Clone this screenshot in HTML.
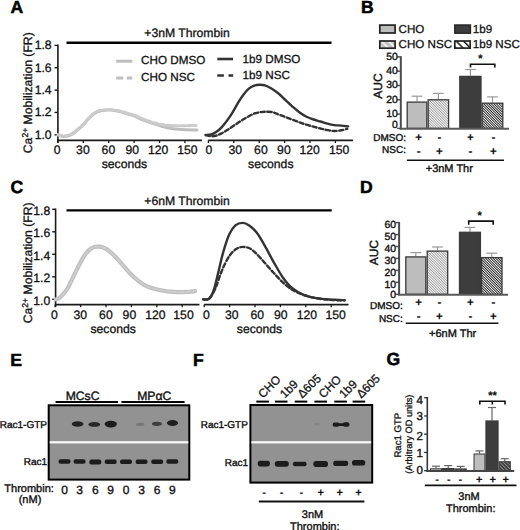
<!DOCTYPE html><html><head><meta charset="utf-8"><style>html,body{margin:0;padding:0;background:#fff;}svg{display:block;font-family:"Liberation Sans",sans-serif;text-rendering:geometricPrecision;}text{stroke:#111;stroke-width:0.3px;} text[font-weight=bold]{stroke-width:0.15px;} text.m{stroke-width:0.38px;}</style></head><body>
<svg width="520" height="530" viewBox="0 0 520 530">
<defs><pattern id="hl" patternUnits="userSpaceOnUse" width="1.8" height="1.8" patternTransform="rotate(-45)"><rect width="1.8" height="1.8" fill="#ffffff"/><rect width="0.85" height="1.8" fill="#9a9a9a"/></pattern><pattern id="hd" patternUnits="userSpaceOnUse" width="1.8" height="1.8" patternTransform="rotate(-45)"><rect width="1.8" height="1.8" fill="#ffffff"/><rect width="0.9" height="1.8" fill="#1a1a1a"/></pattern><pattern id="hl2" patternUnits="userSpaceOnUse" width="5.0" height="5.0" patternTransform="translate(380,41) rotate(-45)"><rect width="5" height="5" fill="#c4c4c4"/><rect width="1.7" height="5" fill="#f4f4f4"/></pattern><pattern id="hd2" patternUnits="userSpaceOnUse" width="5.2" height="5.2" patternTransform="translate(455,41) rotate(-45)"><rect width="5.2" height="5.2" fill="#ffffff"/><rect width="1.5" height="5.2" fill="#1a1a1a"/></pattern><pattern id="hg" patternUnits="userSpaceOnUse" width="2.6" height="2.6" patternTransform="rotate(-45)"><rect width="2.6" height="2.6" fill="#3a3a3a"/><rect width="1.0" height="2.6" fill="#8c8c8c"/></pattern><filter id="bl" x="-50%" y="-50%" width="200%" height="200%"><feGaussianBlur stdDeviation="0.65"/></filter><filter id="bl2" x="-50%" y="-50%" width="200%" height="200%"><feGaussianBlur stdDeviation="0.45"/></filter></defs>
<rect width="520" height="530" fill="#fff"/>
<text x="10.40" y="12.70" font-size="17.60" font-weight="bold" text-anchor="start" fill="#000" style="stroke:#000;stroke-width:0.5px">A</text>
<text x="360.90" y="12.80" font-size="17.60" font-weight="bold" text-anchor="start" fill="#000" style="stroke:#000;stroke-width:0.5px">B</text>
<text x="10.40" y="193.40" font-size="17.60" font-weight="bold" text-anchor="start" fill="#000" style="stroke:#000;stroke-width:0.5px">C</text>
<text x="359.90" y="193.40" font-size="17.60" font-weight="bold" text-anchor="start" fill="#000" style="stroke:#000;stroke-width:0.5px">D</text>
<text x="10.30" y="365.70" font-size="17.60" font-weight="bold" text-anchor="start" fill="#000" style="stroke:#000;stroke-width:0.5px">E</text>
<text x="192.90" y="366.10" font-size="17.60" font-weight="bold" text-anchor="start" fill="#000" style="stroke:#000;stroke-width:0.5px">F</text>
<text x="386.60" y="365.40" font-size="17.60" font-weight="bold" text-anchor="start" fill="#000" style="stroke:#000;stroke-width:0.5px">G</text>
<text x="144.30" y="36.90" font-size="12.20" font-weight="normal" text-anchor="start" fill="#111" >+3nM Thrombin</text>
<line x1="66.50" y1="42.80" x2="331.50" y2="42.80" stroke="#000" stroke-width="2.40" />
<line x1="57.90" y1="44.60" x2="57.90" y2="142.80" stroke="#1a1a1a" stroke-width="1.60" />
<line x1="54.50" y1="134.80" x2="57.90" y2="134.80" stroke="#1a1a1a" stroke-width="1.40" />
<text x="51.60" y="138.70" font-size="12.20" font-weight="normal" text-anchor="end" fill="#111" >1.0</text>
<line x1="54.50" y1="112.45" x2="57.90" y2="112.45" stroke="#1a1a1a" stroke-width="1.40" />
<text x="51.60" y="116.35" font-size="12.20" font-weight="normal" text-anchor="end" fill="#111" >1.2</text>
<line x1="54.50" y1="90.10" x2="57.90" y2="90.10" stroke="#1a1a1a" stroke-width="1.40" />
<text x="51.60" y="94.00" font-size="12.20" font-weight="normal" text-anchor="end" fill="#111" >1.4</text>
<line x1="54.50" y1="67.75" x2="57.90" y2="67.75" stroke="#1a1a1a" stroke-width="1.40" />
<text x="51.60" y="71.65" font-size="12.20" font-weight="normal" text-anchor="end" fill="#111" >1.6</text>
<line x1="54.50" y1="45.40" x2="57.90" y2="45.40" stroke="#1a1a1a" stroke-width="1.40" />
<text x="51.60" y="49.30" font-size="12.20" font-weight="normal" text-anchor="end" fill="#111" >1.8</text>
<text transform="translate(32.0,92.75) rotate(-90)" font-size="12.2" text-anchor="middle" fill="#111">Ca<tspan font-size="8.6" dy="-4.3">2+</tspan><tspan dy="4.3"> Mobilization (FR)</tspan></text>
<line x1="57.20" y1="140.40" x2="201.90" y2="140.40" stroke="#1a1a1a" stroke-width="1.60" />
<line x1="57.90" y1="140.40" x2="57.90" y2="143.00" stroke="#1a1a1a" stroke-width="1.30" />
<text x="57.20" y="153.90" font-size="12.20" font-weight="normal" text-anchor="middle" fill="#111" >0</text>
<line x1="83.30" y1="140.40" x2="83.30" y2="143.00" stroke="#1a1a1a" stroke-width="1.30" />
<text x="82.90" y="153.90" font-size="12.20" font-weight="normal" text-anchor="middle" fill="#111" >30</text>
<line x1="108.70" y1="140.40" x2="108.70" y2="143.00" stroke="#1a1a1a" stroke-width="1.30" />
<text x="108.40" y="153.90" font-size="12.20" font-weight="normal" text-anchor="middle" fill="#111" >60</text>
<line x1="134.10" y1="140.40" x2="134.10" y2="143.00" stroke="#1a1a1a" stroke-width="1.30" />
<text x="132.20" y="153.90" font-size="12.20" font-weight="normal" text-anchor="middle" fill="#111" >90</text>
<line x1="159.50" y1="140.40" x2="159.50" y2="143.00" stroke="#1a1a1a" stroke-width="1.30" />
<text x="158.20" y="153.90" font-size="12.20" font-weight="normal" text-anchor="middle" fill="#111" >120</text>
<line x1="184.90" y1="140.40" x2="184.90" y2="143.00" stroke="#1a1a1a" stroke-width="1.30" />
<text x="187.40" y="153.90" font-size="12.20" font-weight="normal" text-anchor="middle" fill="#111" >150</text>
<text x="124.40" y="168.00" font-size="12.20" font-weight="normal" text-anchor="middle" fill="#111" >seconds</text>
<line x1="208.30" y1="140.40" x2="353.00" y2="140.40" stroke="#1a1a1a" stroke-width="1.60" />
<line x1="208.40" y1="140.40" x2="208.40" y2="143.00" stroke="#1a1a1a" stroke-width="1.30" />
<text x="208.90" y="153.90" font-size="12.20" font-weight="normal" text-anchor="middle" fill="#111" >0</text>
<line x1="233.80" y1="140.40" x2="233.80" y2="143.00" stroke="#1a1a1a" stroke-width="1.30" />
<text x="235.30" y="153.90" font-size="12.20" font-weight="normal" text-anchor="middle" fill="#111" >30</text>
<line x1="259.20" y1="140.40" x2="259.20" y2="143.00" stroke="#1a1a1a" stroke-width="1.30" />
<text x="260.90" y="153.90" font-size="12.20" font-weight="normal" text-anchor="middle" fill="#111" >60</text>
<line x1="284.60" y1="140.40" x2="284.60" y2="143.00" stroke="#1a1a1a" stroke-width="1.30" />
<text x="283.90" y="153.90" font-size="12.20" font-weight="normal" text-anchor="middle" fill="#111" >90</text>
<line x1="310.00" y1="140.40" x2="310.00" y2="143.00" stroke="#1a1a1a" stroke-width="1.30" />
<text x="309.60" y="153.90" font-size="12.20" font-weight="normal" text-anchor="middle" fill="#111" >120</text>
<line x1="335.40" y1="140.40" x2="335.40" y2="143.00" stroke="#1a1a1a" stroke-width="1.30" />
<text x="339.20" y="153.90" font-size="12.20" font-weight="normal" text-anchor="middle" fill="#111" >150</text>
<text x="270.80" y="168.00" font-size="12.20" font-weight="normal" text-anchor="middle" fill="#111" >seconds</text>
<path d="M58.10 135.10 C59.00 135.35 61.45 136.60 63.50 136.60 C65.55 136.60 68.23 136.07 70.40 135.10 C72.57 134.13 74.45 132.42 76.50 130.80 C78.55 129.18 80.65 127.45 82.70 125.40 C84.75 123.35 86.75 120.55 88.80 118.50 C90.85 116.45 92.93 114.38 95.00 113.10 C97.07 111.82 98.63 111.32 101.20 110.80 C103.77 110.28 107.33 109.88 110.40 110.00 C113.47 110.12 116.53 110.80 119.60 111.50 C122.67 112.20 126.37 113.47 128.80 114.20 C131.23 114.93 131.75 114.90 134.20 115.90 C136.65 116.90 140.42 118.95 143.50 120.20 C146.58 121.45 149.63 122.37 152.70 123.40 C155.77 124.43 158.82 125.53 161.90 126.40 C164.98 127.27 168.12 128.10 171.20 128.60 C174.28 129.10 176.10 129.17 180.40 129.40 C184.70 129.63 194.23 129.90 197.00 130.00" fill="none" stroke="#bebebe" stroke-width="3.00" stroke-linecap="round" stroke-linejoin="round" />
<path d="M58.10 134.60 C59.00 134.83 61.45 136.00 63.50 136.00 C65.55 136.00 68.23 135.55 70.40 134.60 C72.57 133.65 74.45 131.92 76.50 130.30 C78.55 128.68 80.65 126.95 82.70 124.90 C84.75 122.85 86.75 120.05 88.80 118.00 C90.85 115.95 92.93 113.88 95.00 112.60 C97.07 111.32 98.63 110.80 101.20 110.30 C103.77 109.80 107.33 109.48 110.40 109.60 C113.47 109.72 116.53 110.33 119.60 111.00 C122.67 111.67 126.37 112.90 128.80 113.60 C131.23 114.30 131.75 114.27 134.20 115.20 C136.65 116.13 140.42 118.00 143.50 119.20 C146.58 120.40 149.63 121.50 152.70 122.40 C155.77 123.30 158.82 124.10 161.90 124.60 C164.98 125.10 168.12 125.20 171.20 125.40 C174.28 125.60 176.27 125.80 180.40 125.80 C184.53 125.80 193.40 125.47 196.00 125.40" fill="none" stroke="#cbcbcb" stroke-width="3.00" stroke-linecap="round" stroke-linejoin="round" stroke-dasharray="4.5 2.2"/>
<path d="M205.70 134.90 C206.60 134.83 209.30 135.02 211.10 134.50 C212.90 133.98 214.72 133.03 216.50 131.80 C218.28 130.57 220.02 129.00 221.80 127.10 C223.58 125.20 225.40 122.87 227.20 120.40 C229.00 117.93 230.80 115.22 232.60 112.30 C234.40 109.38 236.20 105.82 238.00 102.90 C239.80 99.98 241.60 97.17 243.40 94.80 C245.20 92.43 247.02 90.22 248.80 88.70 C250.58 87.18 252.32 86.35 254.10 85.70 C255.88 85.05 257.70 84.85 259.50 84.80 C261.30 84.75 262.98 84.82 264.90 85.40 C266.82 85.98 268.68 86.90 271.00 88.30 C273.32 89.70 276.33 91.78 278.80 93.80 C281.27 95.82 283.48 98.23 285.80 100.40 C288.12 102.57 290.40 104.78 292.70 106.80 C295.00 108.82 297.30 110.85 299.60 112.50 C301.90 114.15 304.18 115.53 306.50 116.70 C308.82 117.87 311.18 118.70 313.50 119.50 C315.82 120.30 318.10 120.82 320.40 121.50 C322.70 122.18 325.00 123.00 327.30 123.60 C329.60 124.20 331.88 124.77 334.20 125.10 C336.52 125.43 338.88 125.38 341.20 125.60 C343.52 125.82 346.95 126.27 348.10 126.40" fill="none" stroke="#333333" stroke-width="2.40" stroke-linecap="round" stroke-linejoin="round" />
<path d="M205.70 135.20 C206.60 135.37 209.30 136.15 211.10 136.20 C212.90 136.25 214.72 136.00 216.50 135.50 C218.28 135.00 220.02 134.10 221.80 133.20 C223.58 132.30 225.40 131.23 227.20 130.10 C229.00 128.97 230.80 127.62 232.60 126.40 C234.40 125.18 236.20 123.98 238.00 122.80 C239.80 121.62 241.60 120.38 243.40 119.30 C245.20 118.22 247.02 117.25 248.80 116.30 C250.58 115.35 252.32 114.27 254.10 113.60 C255.88 112.93 257.70 112.60 259.50 112.30 C261.30 112.00 262.83 111.83 264.90 111.80 C266.97 111.77 269.58 111.63 271.90 112.10 C274.22 112.57 276.48 113.75 278.80 114.60 C281.12 115.45 283.48 116.33 285.80 117.20 C288.12 118.07 290.40 118.93 292.70 119.80 C295.00 120.67 297.30 121.58 299.60 122.40 C301.90 123.22 304.18 123.98 306.50 124.70 C308.82 125.42 311.18 126.07 313.50 126.70 C315.82 127.33 318.10 127.93 320.40 128.50 C322.70 129.07 325.00 129.68 327.30 130.10 C329.60 130.52 331.88 130.97 334.20 131.00 C336.52 131.03 339.03 130.67 341.20 130.30 C343.37 129.93 346.20 129.05 347.20 128.80" fill="none" stroke="#333333" stroke-width="2.40" stroke-linecap="round" stroke-linejoin="round" stroke-dasharray="4.2 2.6"/>
<line x1="116.20" y1="61.20" x2="132.30" y2="61.20" stroke="#bebebe" stroke-width="3.00" />
<line x1="116.2" y1="78.0" x2="132.3" y2="78.0" stroke="#bebebe" stroke-width="3" stroke-dasharray="7 3.6"/>
<text x="141.00" y="64.00" font-size="11.70" font-weight="normal" text-anchor="start" fill="#111" >CHO DMSO</text>
<text x="141.00" y="80.70" font-size="11.70" font-weight="normal" text-anchor="start" fill="#111" >CHO NSC</text>
<line x1="217.30" y1="59.00" x2="233.10" y2="59.00" stroke="#333333" stroke-width="2.60" />
<line x1="217.3" y1="75.5" x2="233.2" y2="75.5" stroke="#333333" stroke-width="2.6" stroke-dasharray="6.6 4.6"/>
<text x="242.60" y="63.00" font-size="11.70" font-weight="normal" text-anchor="start" fill="#111" >1b9 DMSO</text>
<text x="242.60" y="79.30" font-size="11.70" font-weight="normal" text-anchor="start" fill="#111" >1b9 NSC</text>
<text x="144.30" y="204.60" font-size="12.20" font-weight="normal" text-anchor="start" fill="#111" >+6nM Thrombin</text>
<line x1="66.50" y1="210.40" x2="331.70" y2="210.40" stroke="#000" stroke-width="2.40" />
<line x1="55.60" y1="208.50" x2="55.60" y2="307.00" stroke="#1a1a1a" stroke-width="1.60" />
<line x1="52.20" y1="299.30" x2="55.60" y2="299.30" stroke="#1a1a1a" stroke-width="1.40" />
<text x="50.20" y="304.90" font-size="12.20" font-weight="normal" text-anchor="end" fill="#111" >1.0</text>
<line x1="52.20" y1="276.80" x2="55.60" y2="276.80" stroke="#1a1a1a" stroke-width="1.40" />
<text x="50.20" y="282.40" font-size="12.20" font-weight="normal" text-anchor="end" fill="#111" >1.2</text>
<line x1="52.20" y1="254.30" x2="55.60" y2="254.30" stroke="#1a1a1a" stroke-width="1.40" />
<text x="50.20" y="259.90" font-size="12.20" font-weight="normal" text-anchor="end" fill="#111" >1.4</text>
<line x1="52.20" y1="231.80" x2="55.60" y2="231.80" stroke="#1a1a1a" stroke-width="1.40" />
<text x="50.20" y="237.40" font-size="12.20" font-weight="normal" text-anchor="end" fill="#111" >1.6</text>
<line x1="52.20" y1="209.30" x2="55.60" y2="209.30" stroke="#1a1a1a" stroke-width="1.40" />
<text x="50.20" y="214.90" font-size="12.20" font-weight="normal" text-anchor="end" fill="#111" >1.8</text>
<text transform="translate(32.0,262.85) rotate(-90)" font-size="12.2" text-anchor="middle" fill="#111">Ca<tspan font-size="8.6" dy="-4.3">2+</tspan><tspan dy="4.3"> Mobilization (FR)</tspan></text>
<line x1="54.90" y1="304.60" x2="199.40" y2="304.60" stroke="#1a1a1a" stroke-width="1.60" />
<line x1="55.20" y1="304.60" x2="55.20" y2="307.20" stroke="#1a1a1a" stroke-width="1.30" />
<text x="54.40" y="318.90" font-size="12.20" font-weight="normal" text-anchor="middle" fill="#111" >0</text>
<line x1="80.60" y1="304.60" x2="80.60" y2="307.20" stroke="#1a1a1a" stroke-width="1.30" />
<text x="80.30" y="318.90" font-size="12.20" font-weight="normal" text-anchor="middle" fill="#111" >30</text>
<line x1="106.00" y1="304.60" x2="106.00" y2="307.20" stroke="#1a1a1a" stroke-width="1.30" />
<text x="105.90" y="318.90" font-size="12.20" font-weight="normal" text-anchor="middle" fill="#111" >60</text>
<line x1="131.40" y1="304.60" x2="131.40" y2="307.20" stroke="#1a1a1a" stroke-width="1.30" />
<text x="129.40" y="318.90" font-size="12.20" font-weight="normal" text-anchor="middle" fill="#111" >90</text>
<line x1="156.80" y1="304.60" x2="156.80" y2="307.20" stroke="#1a1a1a" stroke-width="1.30" />
<text x="155.30" y="318.90" font-size="12.20" font-weight="normal" text-anchor="middle" fill="#111" >120</text>
<line x1="182.20" y1="304.60" x2="182.20" y2="307.20" stroke="#1a1a1a" stroke-width="1.30" />
<text x="183.50" y="318.90" font-size="12.20" font-weight="normal" text-anchor="middle" fill="#111" >150</text>
<text x="113.20" y="333.20" font-size="12.20" font-weight="normal" text-anchor="middle" fill="#111" >seconds</text>
<line x1="204.20" y1="304.60" x2="348.50" y2="304.60" stroke="#1a1a1a" stroke-width="1.60" />
<line x1="204.20" y1="304.60" x2="204.20" y2="307.20" stroke="#1a1a1a" stroke-width="1.30" />
<text x="206.50" y="318.90" font-size="12.20" font-weight="normal" text-anchor="middle" fill="#111" >0</text>
<line x1="229.60" y1="304.60" x2="229.60" y2="307.20" stroke="#1a1a1a" stroke-width="1.30" />
<text x="231.80" y="318.90" font-size="12.20" font-weight="normal" text-anchor="middle" fill="#111" >30</text>
<line x1="255.00" y1="304.60" x2="255.00" y2="307.20" stroke="#1a1a1a" stroke-width="1.30" />
<text x="257.30" y="318.90" font-size="12.20" font-weight="normal" text-anchor="middle" fill="#111" >60</text>
<line x1="280.40" y1="304.60" x2="280.40" y2="307.20" stroke="#1a1a1a" stroke-width="1.30" />
<text x="280.80" y="318.90" font-size="12.20" font-weight="normal" text-anchor="middle" fill="#111" >90</text>
<line x1="305.80" y1="304.60" x2="305.80" y2="307.20" stroke="#1a1a1a" stroke-width="1.30" />
<text x="306.80" y="318.90" font-size="12.20" font-weight="normal" text-anchor="middle" fill="#111" >120</text>
<line x1="331.20" y1="304.60" x2="331.20" y2="307.20" stroke="#1a1a1a" stroke-width="1.30" />
<text x="335.60" y="318.90" font-size="12.20" font-weight="normal" text-anchor="middle" fill="#111" >150</text>
<text x="259.50" y="333.20" font-size="12.20" font-weight="normal" text-anchor="middle" fill="#111" >seconds</text>
<path d="M55.80 299.40 C56.25 299.23 57.45 299.07 58.50 298.40 C59.55 297.73 60.60 297.05 62.10 295.40 C63.60 293.75 65.72 291.45 67.50 288.50 C69.28 285.55 71.02 281.30 72.80 277.70 C74.58 274.10 76.40 270.38 78.20 266.90 C80.00 263.42 81.80 259.60 83.60 256.80 C85.40 254.00 87.20 251.73 89.00 250.10 C90.80 248.47 92.60 247.57 94.40 247.00 C96.20 246.43 98.02 246.48 99.80 246.70 C101.58 246.92 103.32 247.40 105.10 248.30 C106.88 249.20 108.77 250.65 110.50 252.10 C112.23 253.55 113.67 255.08 115.50 257.00 C117.33 258.92 119.40 261.23 121.50 263.60 C123.60 265.97 125.92 268.85 128.10 271.20 C130.28 273.55 132.42 275.75 134.60 277.70 C136.78 279.65 139.02 281.40 141.20 282.90 C143.38 284.40 145.53 285.72 147.70 286.70 C149.87 287.68 152.02 288.20 154.20 288.80 C156.38 289.40 158.62 289.88 160.80 290.30 C162.98 290.72 165.13 291.03 167.30 291.30 C169.47 291.57 171.62 291.75 173.80 291.90 C175.98 292.05 178.22 292.20 180.40 292.20 C182.58 292.20 184.45 292.08 186.90 291.90 C189.35 291.72 193.73 291.23 195.10 291.10" fill="none" stroke="#bebebe" stroke-width="4.20" stroke-linecap="round" stroke-linejoin="round" />
<path d="M55.80 299.40 C56.25 299.23 57.45 299.07 58.50 298.40 C59.55 297.73 60.60 297.05 62.10 295.40 C63.60 293.75 65.72 291.45 67.50 288.50 C69.28 285.55 71.02 281.30 72.80 277.70 C74.58 274.10 76.40 270.38 78.20 266.90 C80.00 263.42 81.80 259.60 83.60 256.80 C85.40 254.00 87.20 251.73 89.00 250.10 C90.80 248.47 92.60 247.57 94.40 247.00 C96.20 246.43 98.02 246.48 99.80 246.70 C101.58 246.92 103.32 247.40 105.10 248.30 C106.88 249.20 108.77 250.65 110.50 252.10 C112.23 253.55 113.67 255.08 115.50 257.00 C117.33 258.92 119.40 261.23 121.50 263.60 C123.60 265.97 125.92 268.85 128.10 271.20 C130.28 273.55 132.42 275.75 134.60 277.70 C136.78 279.65 139.02 281.40 141.20 282.90 C143.38 284.40 145.53 285.72 147.70 286.70 C149.87 287.68 152.02 288.20 154.20 288.80 C156.38 289.40 158.62 289.88 160.80 290.30 C162.98 290.72 165.13 291.03 167.30 291.30 C169.47 291.57 171.62 291.75 173.80 291.90 C175.98 292.05 178.22 292.20 180.40 292.20 C182.58 292.20 184.45 292.08 186.90 291.90 C189.35 291.72 193.73 291.23 195.10 291.10" fill="none" stroke="#cdcdcd" stroke-width="2.00" stroke-linecap="round" stroke-linejoin="round" stroke-dasharray="4.5 2.2"/>
<path d="M203.20 299.40 C204.20 299.27 207.43 300.17 209.20 298.60 C210.97 297.03 212.25 294.52 213.80 290.00 C215.35 285.48 216.97 277.67 218.50 271.50 C220.03 265.33 221.22 259.15 223.00 253.00 C224.78 246.85 227.13 239.20 229.20 234.60 C231.27 230.00 233.18 227.35 235.40 225.40 C237.62 223.45 240.20 222.90 242.50 222.90 C244.80 222.90 246.78 223.72 249.20 225.40 C251.62 227.08 254.43 229.67 257.00 233.00 C259.57 236.33 261.80 240.52 264.60 245.40 C267.40 250.28 270.73 256.92 273.80 262.30 C276.87 267.68 279.92 273.38 283.00 277.70 C286.08 282.02 288.70 285.27 292.30 288.20 C295.90 291.13 299.98 293.57 304.60 295.30 C309.22 297.03 314.87 297.85 320.00 298.60 C325.13 299.35 331.30 299.53 335.40 299.80 C339.50 300.07 343.07 300.13 344.60 300.20" fill="none" stroke="#333333" stroke-width="2.40" stroke-linecap="round" stroke-linejoin="round" />
<path d="M203.20 299.40 C204.20 299.27 207.17 300.42 209.20 298.60 C211.23 296.78 213.35 293.02 215.40 288.50 C217.45 283.98 219.20 276.88 221.50 271.50 C223.80 266.12 226.62 260.03 229.20 256.20 C231.78 252.37 234.43 250.03 237.00 248.50 C239.57 246.97 242.05 246.75 244.60 247.00 C247.15 247.25 249.48 247.97 252.30 250.00 C255.12 252.03 257.92 255.37 261.50 259.20 C265.08 263.03 269.68 268.63 273.80 273.00 C277.92 277.37 282.08 282.07 286.20 285.40 C290.32 288.73 293.90 290.95 298.50 293.00 C303.10 295.05 308.68 296.57 313.80 297.70 C318.92 298.83 324.07 299.35 329.20 299.80 C334.33 300.25 342.03 300.30 344.60 300.40" fill="none" stroke="#333333" stroke-width="2.40" stroke-linecap="round" stroke-linejoin="round" stroke-dasharray="4.2 2.6"/>
<rect x="379.80" y="25.10" width="15.30" height="7.90" fill="#bdbdbd" stroke="#222" stroke-width="1.70" />
<rect x="454.80" y="25.00" width="15.60" height="8.20" fill="#3d3d3d" stroke="#2a2a2a" stroke-width="1.50" />
<rect x="379.80" y="41.00" width="15.30" height="7.20" fill="url(#hl2)" stroke="#222" stroke-width="1.70" />
<rect x="454.80" y="41.00" width="15.40" height="7.10" fill="url(#hd2)" stroke="#222" stroke-width="1.70" />
<text x="398.60" y="33.30" font-size="11.60" font-weight="normal" text-anchor="start" fill="#111" >CHO</text>
<text x="472.80" y="33.30" font-size="11.60" font-weight="normal" text-anchor="start" fill="#111" >1b9</text>
<text x="398.60" y="48.40" font-size="11.60" font-weight="normal" text-anchor="start" fill="#111" >CHO NSC</text>
<text x="472.80" y="48.40" font-size="11.60" font-weight="normal" text-anchor="start" fill="#111" >1b9 NSC</text>
<line x1="417.00" y1="101.50" x2="417.00" y2="96.20" stroke="#9a9a9a" stroke-width="1.20" />
<line x1="411.60" y1="96.20" x2="422.40" y2="96.20" stroke="#9a9a9a" stroke-width="1.20" />
<rect x="407.20" y="102.10" width="19.60" height="26.30" fill="#bdbdbd" stroke="#3a3a3a" stroke-width="1.30" />
<line x1="438.40" y1="99.20" x2="438.40" y2="93.40" stroke="#9a9a9a" stroke-width="1.20" />
<line x1="433.00" y1="93.40" x2="443.80" y2="93.40" stroke="#9a9a9a" stroke-width="1.20" />
<rect x="428.20" y="99.80" width="20.40" height="28.60" fill="url(#hl)" stroke="#3a3a3a" stroke-width="1.30" />
<line x1="470.40" y1="75.80" x2="470.40" y2="69.50" stroke="#9a9a9a" stroke-width="1.20" />
<line x1="465.00" y1="69.50" x2="475.80" y2="69.50" stroke="#9a9a9a" stroke-width="1.20" />
<rect x="459.80" y="76.40" width="21.20" height="52.00" fill="#3d3d3d" stroke="#3a3a3a" stroke-width="1.30" />
<line x1="492.50" y1="102.60" x2="492.50" y2="96.90" stroke="#9a9a9a" stroke-width="1.20" />
<line x1="487.10" y1="96.90" x2="497.90" y2="96.90" stroke="#9a9a9a" stroke-width="1.20" />
<rect x="482.20" y="103.20" width="20.60" height="25.20" fill="url(#hd)" stroke="#3a3a3a" stroke-width="1.30" />
<line x1="400.80" y1="56.20" x2="400.80" y2="129.40" stroke="#4a4a4a" stroke-width="2.00" />
<line x1="399.80" y1="128.80" x2="509.00" y2="128.80" stroke="#5a5a5a" stroke-width="2.00" />
<line x1="397.20" y1="128.40" x2="400.80" y2="128.40" stroke="#4a4a4a" stroke-width="1.40" />
<text x="397.80" y="128.20" font-size="10.40" font-weight="normal" text-anchor="end" fill="#111" class="m">0</text>
<line x1="397.20" y1="114.10" x2="400.80" y2="114.10" stroke="#4a4a4a" stroke-width="1.40" />
<text x="397.80" y="117.00" font-size="10.40" font-weight="normal" text-anchor="end" fill="#111" class="m">10</text>
<line x1="397.20" y1="99.80" x2="400.80" y2="99.80" stroke="#4a4a4a" stroke-width="1.40" />
<text x="397.80" y="102.70" font-size="10.40" font-weight="normal" text-anchor="end" fill="#111" class="m">20</text>
<line x1="397.20" y1="85.50" x2="400.80" y2="85.50" stroke="#4a4a4a" stroke-width="1.40" />
<text x="397.80" y="88.40" font-size="10.40" font-weight="normal" text-anchor="end" fill="#111" class="m">30</text>
<line x1="397.20" y1="71.20" x2="400.80" y2="71.20" stroke="#4a4a4a" stroke-width="1.40" />
<text x="397.80" y="74.10" font-size="10.40" font-weight="normal" text-anchor="end" fill="#111" class="m">40</text>
<line x1="397.20" y1="56.90" x2="400.80" y2="56.90" stroke="#4a4a4a" stroke-width="1.40" />
<text x="397.80" y="59.80" font-size="10.40" font-weight="normal" text-anchor="end" fill="#111" class="m">50</text>
<text transform="translate(382.30,86.10) rotate(-90)" font-size="12" class="m" text-anchor="middle" fill="#111">AUC</text>
<path d="M470.50 67.60 V64.20 H494.80 V67.60" fill="none" stroke="#111" stroke-width="1.6"/>
<text x="480.40" y="62.30" font-size="11.00" font-weight="bold" text-anchor="middle" fill="#111" >*</text>
<text x="406.00" y="140.60" font-size="10.00" font-weight="normal" text-anchor="end" fill="#111" class="m">DMSO:</text>
<text x="406.00" y="153.30" font-size="10.00" font-weight="normal" text-anchor="end" fill="#111" class="m">NSC:</text>
<text x="418.70" y="141.40" font-size="11.50" font-weight="bold" text-anchor="middle" fill="#111" >+</text>
<text x="418.70" y="154.80" font-size="11.50" font-weight="bold" text-anchor="middle" fill="#111" >-</text>
<text x="439.40" y="141.40" font-size="11.50" font-weight="bold" text-anchor="middle" fill="#111" >-</text>
<text x="439.40" y="154.80" font-size="11.50" font-weight="bold" text-anchor="middle" fill="#111" >+</text>
<text x="470.40" y="141.40" font-size="11.50" font-weight="bold" text-anchor="middle" fill="#111" >+</text>
<text x="470.40" y="154.80" font-size="11.50" font-weight="bold" text-anchor="middle" fill="#111" >-</text>
<text x="493.30" y="141.40" font-size="11.50" font-weight="bold" text-anchor="middle" fill="#111" >-</text>
<text x="493.30" y="154.80" font-size="11.50" font-weight="bold" text-anchor="middle" fill="#111" >+</text>
<line x1="406.90" y1="160.30" x2="504.00" y2="160.30" stroke="#111" stroke-width="1.60" />
<text x="449.30" y="171.50" font-size="11.00" font-weight="normal" text-anchor="middle" fill="#111" class="m">+3nM Thr</text>
<line x1="415.80" y1="256.30" x2="415.80" y2="252.60" stroke="#9a9a9a" stroke-width="1.20" />
<line x1="410.40" y1="252.60" x2="421.20" y2="252.60" stroke="#9a9a9a" stroke-width="1.20" />
<rect x="405.80" y="256.90" width="20.00" height="37.40" fill="#bdbdbd" stroke="#3a3a3a" stroke-width="1.30" />
<line x1="437.45" y1="250.50" x2="437.45" y2="247.00" stroke="#9a9a9a" stroke-width="1.20" />
<line x1="432.05" y1="247.00" x2="442.85" y2="247.00" stroke="#9a9a9a" stroke-width="1.20" />
<rect x="427.20" y="251.10" width="20.50" height="43.20" fill="url(#hl)" stroke="#3a3a3a" stroke-width="1.30" />
<line x1="469.95" y1="231.70" x2="469.95" y2="227.40" stroke="#9a9a9a" stroke-width="1.20" />
<line x1="464.55" y1="227.40" x2="475.35" y2="227.40" stroke="#9a9a9a" stroke-width="1.20" />
<rect x="459.50" y="232.30" width="20.90" height="62.00" fill="#3d3d3d" stroke="#3a3a3a" stroke-width="1.30" />
<line x1="491.80" y1="257.00" x2="491.80" y2="253.20" stroke="#9a9a9a" stroke-width="1.20" />
<line x1="486.40" y1="253.20" x2="497.20" y2="253.20" stroke="#9a9a9a" stroke-width="1.20" />
<rect x="481.60" y="257.60" width="20.40" height="36.70" fill="url(#hd)" stroke="#3a3a3a" stroke-width="1.30" />
<line x1="399.10" y1="221.90" x2="399.10" y2="295.30" stroke="#4a4a4a" stroke-width="2.00" />
<line x1="398.10" y1="294.70" x2="508.00" y2="294.70" stroke="#5a5a5a" stroke-width="2.00" />
<line x1="395.50" y1="294.30" x2="399.10" y2="294.30" stroke="#4a4a4a" stroke-width="1.40" />
<text x="396.10" y="297.70" font-size="10.40" font-weight="normal" text-anchor="end" fill="#111" class="m">0</text>
<line x1="395.50" y1="282.35" x2="399.10" y2="282.35" stroke="#4a4a4a" stroke-width="1.40" />
<text x="396.10" y="287.75" font-size="10.40" font-weight="normal" text-anchor="end" fill="#111" class="m">10</text>
<line x1="395.50" y1="270.40" x2="399.10" y2="270.40" stroke="#4a4a4a" stroke-width="1.40" />
<text x="396.10" y="275.80" font-size="10.40" font-weight="normal" text-anchor="end" fill="#111" class="m">20</text>
<line x1="395.50" y1="258.45" x2="399.10" y2="258.45" stroke="#4a4a4a" stroke-width="1.40" />
<text x="396.10" y="263.85" font-size="10.40" font-weight="normal" text-anchor="end" fill="#111" class="m">30</text>
<line x1="395.50" y1="246.50" x2="399.10" y2="246.50" stroke="#4a4a4a" stroke-width="1.40" />
<text x="396.10" y="251.90" font-size="10.40" font-weight="normal" text-anchor="end" fill="#111" class="m">40</text>
<line x1="395.50" y1="234.55" x2="399.10" y2="234.55" stroke="#4a4a4a" stroke-width="1.40" />
<text x="396.10" y="239.95" font-size="10.40" font-weight="normal" text-anchor="end" fill="#111" class="m">50</text>
<line x1="395.50" y1="222.60" x2="399.10" y2="222.60" stroke="#4a4a4a" stroke-width="1.40" />
<text x="396.10" y="228.00" font-size="10.40" font-weight="normal" text-anchor="end" fill="#111" class="m">60</text>
<text transform="translate(378.30,252.70) rotate(-90)" font-size="12" class="m" text-anchor="middle" fill="#111">AUC</text>
<path d="M468.70 224.80 V221.10 H493.20 V224.80" fill="none" stroke="#111" stroke-width="1.6"/>
<text x="479.60" y="219.20" font-size="11.00" font-weight="bold" text-anchor="middle" fill="#111" >*</text>
<text x="402.80" y="309.20" font-size="10.00" font-weight="normal" text-anchor="end" fill="#111" class="m">DMSO:</text>
<text x="402.80" y="321.60" font-size="10.00" font-weight="normal" text-anchor="end" fill="#111" class="m">NSC:</text>
<text x="418.70" y="306.20" font-size="11.50" font-weight="bold" text-anchor="middle" fill="#111" >+</text>
<text x="418.70" y="319.80" font-size="11.50" font-weight="bold" text-anchor="middle" fill="#111" >-</text>
<text x="439.40" y="306.20" font-size="11.50" font-weight="bold" text-anchor="middle" fill="#111" >-</text>
<text x="439.40" y="319.80" font-size="11.50" font-weight="bold" text-anchor="middle" fill="#111" >+</text>
<text x="470.40" y="306.20" font-size="11.50" font-weight="bold" text-anchor="middle" fill="#111" >+</text>
<text x="470.40" y="319.80" font-size="11.50" font-weight="bold" text-anchor="middle" fill="#111" >-</text>
<text x="493.30" y="306.20" font-size="11.50" font-weight="bold" text-anchor="middle" fill="#111" >-</text>
<text x="493.30" y="319.80" font-size="11.50" font-weight="bold" text-anchor="middle" fill="#111" >+</text>
<line x1="405.70" y1="323.20" x2="498.40" y2="323.20" stroke="#111" stroke-width="1.60" />
<text x="452.60" y="337.00" font-size="11.00" font-weight="normal" text-anchor="middle" fill="#111" class="m">+6nM Thr</text>
<rect x="48.70" y="405.30" width="140.60" height="74.30" fill="#929292" stroke="#000" stroke-width="2.00" />
<rect x="49.70" y="441.20" width="138.60" height="2.20" fill="#fafafa" stroke="none" stroke-width="0.00" />
<ellipse cx="77.60" cy="424.00" rx="5.83" ry="2.80" fill="#1a1a1a" opacity="0.95" filter="url(#bl)"/>
<ellipse cx="94.30" cy="424.40" rx="5.83" ry="2.46" fill="#1a1a1a" opacity="0.90" filter="url(#bl)"/>
<ellipse cx="110.80" cy="424.10" rx="6.15" ry="3.47" fill="#1a1a1a" opacity="1.00" filter="url(#bl)"/>
<ellipse cx="140.20" cy="424.40" rx="4.24" ry="1.68" fill="#1a1a1a" opacity="0.22" filter="url(#bl)"/>
<ellipse cx="156.90" cy="423.80" rx="4.98" ry="2.13" fill="#1a1a1a" opacity="0.70" filter="url(#bl)"/>
<ellipse cx="172.50" cy="423.00" rx="5.62" ry="2.91" fill="#1a1a1a" opacity="0.97" filter="url(#bl)"/>
<rect x="58.50" y="459.35" width="12.00" height="4.30" rx="1.95" fill="#1a1a1a" opacity="1.00" filter="url(#bl)"/>
<rect x="73.60" y="459.35" width="12.00" height="4.30" rx="1.95" fill="#1a1a1a" opacity="1.00" filter="url(#bl)"/>
<rect x="89.30" y="459.60" width="12.00" height="4.80" rx="2.18" fill="#1a1a1a" opacity="1.00" filter="url(#bl)"/>
<rect x="104.70" y="459.40" width="12.00" height="4.60" rx="2.09" fill="#1a1a1a" opacity="1.00" filter="url(#bl)"/>
<rect x="120.00" y="459.60" width="12.00" height="4.40" rx="2.00" fill="#1a1a1a" opacity="1.00" filter="url(#bl)"/>
<rect x="135.60" y="459.50" width="12.00" height="4.60" rx="2.09" fill="#1a1a1a" opacity="1.00" filter="url(#bl)"/>
<rect x="151.20" y="459.60" width="12.00" height="4.40" rx="2.00" fill="#1a1a1a" opacity="1.00" filter="url(#bl)"/>
<rect x="166.30" y="459.30" width="12.00" height="4.40" rx="2.00" fill="#1a1a1a" opacity="1.00" filter="url(#bl)"/>
<line x1="55.60" y1="401.90" x2="118.00" y2="401.90" stroke="#000" stroke-width="2.00" />
<line x1="121.40" y1="401.90" x2="184.60" y2="401.90" stroke="#000" stroke-width="2.00" />
<text x="82.60" y="399.60" font-size="12.20" font-weight="normal" text-anchor="middle" fill="#111" class="m">MCsC</text>
<text x="154.20" y="399.60" font-size="12.20" font-weight="normal" text-anchor="middle" fill="#111" class="m">MP&#945;C</text>
<text x="47.00" y="427.60" font-size="10.00" font-weight="normal" text-anchor="end" fill="#111" class="m">Rac1-GTP</text>
<text x="47.20" y="464.90" font-size="10.00" font-weight="normal" text-anchor="end" fill="#111" class="m">Rac1</text>
<text x="4.30" y="491.60" font-size="11.00" font-weight="normal" text-anchor="start" fill="#111" class="m">Thrombin:</text>
<text x="30.00" y="503.40" font-size="11.00" font-weight="normal" text-anchor="middle" fill="#111" class="m">(nM)</text>
<text x="64.50" y="493.80" font-size="12.00" font-weight="normal" text-anchor="middle" fill="#111" class="m">0</text>
<text x="79.60" y="493.80" font-size="12.00" font-weight="normal" text-anchor="middle" fill="#111" class="m">3</text>
<text x="95.30" y="493.80" font-size="12.00" font-weight="normal" text-anchor="middle" fill="#111" class="m">6</text>
<text x="110.70" y="493.80" font-size="12.00" font-weight="normal" text-anchor="middle" fill="#111" class="m">9</text>
<text x="126.00" y="493.80" font-size="12.00" font-weight="normal" text-anchor="middle" fill="#111" class="m">0</text>
<text x="141.50" y="493.80" font-size="12.00" font-weight="normal" text-anchor="middle" fill="#111" class="m">3</text>
<text x="157.20" y="493.80" font-size="12.00" font-weight="normal" text-anchor="middle" fill="#111" class="m">6</text>
<text x="172.30" y="493.80" font-size="12.00" font-weight="normal" text-anchor="middle" fill="#111" class="m">9</text>
<rect x="250.40" y="405.00" width="121.80" height="77.60" fill="#929292" stroke="#000" stroke-width="2.00" />
<rect x="251.40" y="441.20" width="119.80" height="2.20" fill="#fafafa" stroke="none" stroke-width="0.00" />
<line x1="256.30" y1="401.60" x2="268.90" y2="401.60" stroke="#000" stroke-width="2.00" />
<text transform="translate(262.90,398.8) rotate(-45)" font-size="11.8" fill="#111">CHO</text>
<line x1="274.90" y1="401.60" x2="287.50" y2="401.60" stroke="#000" stroke-width="2.00" />
<text transform="translate(284.80,398.8) rotate(-45)" font-size="11.8" fill="#111">1b9</text>
<line x1="294.70" y1="401.60" x2="307.30" y2="401.60" stroke="#000" stroke-width="2.00" />
<text transform="translate(302.30,398.8) rotate(-45)" font-size="11.8" fill="#111">&#916;605</text>
<line x1="314.40" y1="401.60" x2="327.00" y2="401.60" stroke="#000" stroke-width="2.00" />
<text transform="translate(323.40,398.8) rotate(-45)" font-size="11.8" fill="#111">CHO</text>
<line x1="334.30" y1="401.60" x2="346.90" y2="401.60" stroke="#000" stroke-width="2.00" />
<text transform="translate(343.90,398.8) rotate(-45)" font-size="11.8" fill="#111">1b9</text>
<line x1="352.60" y1="401.60" x2="365.20" y2="401.60" stroke="#000" stroke-width="2.00" />
<text transform="translate(361.20,398.8) rotate(-45)" font-size="11.8" fill="#111">&#916;605</text>
<rect x="314.30" y="423.00" width="5.00" height="2.40" rx="1.09" fill="#1a1a1a" opacity="0.10" filter="url(#bl)"/>
<rect x="332.70" y="422.50" width="6.60" height="4.20" rx="1.91" fill="#1a1a1a" opacity="1.00" filter="url(#bl)"/>
<rect x="336.00" y="423.30" width="10.00" height="2.60" rx="1.18" fill="#1a1a1a" opacity="1.00" filter="url(#bl)"/>
<rect x="342.90" y="422.30" width="6.60" height="4.40" rx="2.00" fill="#1a1a1a" opacity="1.00" filter="url(#bl)"/>
<rect x="257.70" y="460.80" width="12.20" height="5.60" rx="2.55" fill="#1a1a1a" opacity="1.00" filter="url(#bl)"/>
<rect x="274.80" y="460.90" width="14.00" height="5.80" rx="2.64" fill="#1a1a1a" opacity="1.00" filter="url(#bl)"/>
<rect x="292.90" y="461.80" width="13.60" height="4.40" rx="2.00" fill="#1a1a1a" opacity="1.00" filter="url(#bl)"/>
<rect x="313.40" y="460.90" width="14.60" height="6.20" rx="2.82" fill="#1a1a1a" opacity="1.00" filter="url(#bl)"/>
<rect x="333.20" y="460.80" width="15.00" height="5.20" rx="2.36" fill="#1a1a1a" opacity="1.00" filter="url(#bl)"/>
<rect x="352.00" y="460.00" width="13.20" height="5.60" rx="2.55" fill="#1a1a1a" opacity="1.00" filter="url(#bl)"/>
<text x="247.90" y="428.20" font-size="10.00" font-weight="normal" text-anchor="end" fill="#111" class="m">Rac1-GTP</text>
<text x="248.10" y="465.80" font-size="10.00" font-weight="normal" text-anchor="end" fill="#111" class="m">Rac1</text>
<text x="264.20" y="496.00" font-size="11.00" font-weight="bold" text-anchor="middle" fill="#111" >-</text>
<text x="281.70" y="496.00" font-size="11.00" font-weight="bold" text-anchor="middle" fill="#111" >-</text>
<text x="301.40" y="496.00" font-size="11.00" font-weight="bold" text-anchor="middle" fill="#111" >-</text>
<text x="320.80" y="496.00" font-size="11.00" font-weight="bold" text-anchor="middle" fill="#111" >+</text>
<text x="339.60" y="496.00" font-size="11.00" font-weight="bold" text-anchor="middle" fill="#111" >+</text>
<text x="358.50" y="496.00" font-size="11.00" font-weight="bold" text-anchor="middle" fill="#111" >+</text>
<line x1="258.80" y1="501.50" x2="364.40" y2="501.50" stroke="#111" stroke-width="1.80" />
<text x="312.50" y="517.60" font-size="11.00" font-weight="normal" text-anchor="middle" fill="#111" class="m">3nM</text>
<text x="314.80" y="530.40" font-size="11.00" font-weight="normal" text-anchor="middle" fill="#111" class="m">Thrombin:</text>
<line x1="436.00" y1="468.30" x2="436.00" y2="466.20" stroke="#666" stroke-width="1.20" />
<line x1="432.00" y1="466.20" x2="440.00" y2="466.20" stroke="#666" stroke-width="1.20" />
<rect x="430.50" y="468.80" width="11.00" height="1.90" fill="#bdbdbd" stroke="#3a3a3a" stroke-width="1.00" />
<line x1="448.25" y1="468.00" x2="448.25" y2="465.60" stroke="#666" stroke-width="1.20" />
<line x1="444.25" y1="465.60" x2="452.25" y2="465.60" stroke="#666" stroke-width="1.20" />
<rect x="442.50" y="468.50" width="11.50" height="2.20" fill="#3d3d3d" stroke="#3a3a3a" stroke-width="1.00" />
<line x1="460.65" y1="468.40" x2="460.65" y2="466.40" stroke="#666" stroke-width="1.20" />
<line x1="456.65" y1="466.40" x2="464.65" y2="466.40" stroke="#666" stroke-width="1.20" />
<rect x="455.00" y="468.90" width="11.30" height="1.80" fill="url(#hg)" stroke="#3a3a3a" stroke-width="1.00" />
<line x1="479.45" y1="453.50" x2="479.45" y2="450.90" stroke="#666" stroke-width="1.20" />
<line x1="475.45" y1="450.90" x2="483.45" y2="450.90" stroke="#666" stroke-width="1.20" />
<rect x="474.00" y="454.00" width="10.90" height="16.70" fill="#bdbdbd" stroke="#3a3a3a" stroke-width="1.00" />
<line x1="492.00" y1="420.40" x2="492.00" y2="407.50" stroke="#666" stroke-width="1.20" />
<line x1="488.00" y1="407.50" x2="496.00" y2="407.50" stroke="#666" stroke-width="1.20" />
<rect x="485.90" y="420.90" width="12.20" height="49.80" fill="#3d3d3d" stroke="#3a3a3a" stroke-width="1.00" />
<line x1="504.70" y1="461.20" x2="504.70" y2="458.70" stroke="#666" stroke-width="1.20" />
<line x1="500.70" y1="458.70" x2="508.70" y2="458.70" stroke="#666" stroke-width="1.20" />
<rect x="499.10" y="461.70" width="11.20" height="9.00" fill="url(#hg)" stroke="#3a3a3a" stroke-width="1.00" />
<line x1="427.30" y1="397.00" x2="427.30" y2="471.70" stroke="#333" stroke-width="1.60" />
<line x1="426.50" y1="471.00" x2="514.20" y2="471.00" stroke="#444" stroke-width="1.80" />
<line x1="424.10" y1="470.70" x2="427.30" y2="470.70" stroke="#333" stroke-width="1.30" />
<text x="422.90" y="473.70" font-size="11.60" font-weight="normal" text-anchor="end" fill="#111" class="m">0</text>
<line x1="424.10" y1="452.45" x2="427.30" y2="452.45" stroke="#333" stroke-width="1.30" />
<text x="422.90" y="457.05" font-size="11.60" font-weight="normal" text-anchor="end" fill="#111" class="m">1</text>
<line x1="424.10" y1="434.20" x2="427.30" y2="434.20" stroke="#333" stroke-width="1.30" />
<text x="422.90" y="439.70" font-size="11.60" font-weight="normal" text-anchor="end" fill="#111" class="m">2</text>
<line x1="424.10" y1="415.95" x2="427.30" y2="415.95" stroke="#333" stroke-width="1.30" />
<text x="422.90" y="419.95" font-size="11.60" font-weight="normal" text-anchor="end" fill="#111" class="m">3</text>
<line x1="424.10" y1="397.70" x2="427.30" y2="397.70" stroke="#333" stroke-width="1.30" />
<text x="422.90" y="403.50" font-size="11.60" font-weight="normal" text-anchor="end" fill="#111" class="m">4</text>
<text transform="translate(400.6,435.2) rotate(-90)" font-size="9.6" text-anchor="middle" fill="#111">Rac1 GTP</text>
<text transform="translate(411.6,434.2) rotate(-90)" font-size="9.2" text-anchor="middle" fill="#111">(Arbitrary OD units)</text>
<path d="M479.8 404.4 V401.3 H505.0 V404.4 M492.3 401.3 V404.4" fill="none" stroke="#111" stroke-width="1.6"/>
<text x="492.50" y="399.20" font-size="11.00" font-weight="bold" text-anchor="middle" fill="#111" >**</text>
<text x="437.00" y="482.60" font-size="11.00" font-weight="bold" text-anchor="middle" fill="#111" >-</text>
<text x="448.80" y="482.60" font-size="11.00" font-weight="bold" text-anchor="middle" fill="#111" >-</text>
<text x="460.40" y="482.60" font-size="11.00" font-weight="bold" text-anchor="middle" fill="#111" >-</text>
<text x="479.20" y="482.60" font-size="11.00" font-weight="bold" text-anchor="middle" fill="#111" >+</text>
<text x="492.70" y="482.60" font-size="11.00" font-weight="bold" text-anchor="middle" fill="#111" >+</text>
<text x="505.60" y="482.60" font-size="11.00" font-weight="bold" text-anchor="middle" fill="#111" >+</text>
<line x1="424.80" y1="485.30" x2="516.50" y2="485.30" stroke="#111" stroke-width="1.80" />
<text x="469.00" y="499.80" font-size="11.00" font-weight="normal" text-anchor="middle" fill="#111" class="m">3nM</text>
<text x="470.70" y="512.00" font-size="11.00" font-weight="normal" text-anchor="middle" fill="#111" class="m">Thrombin:</text>
</svg></body></html>
